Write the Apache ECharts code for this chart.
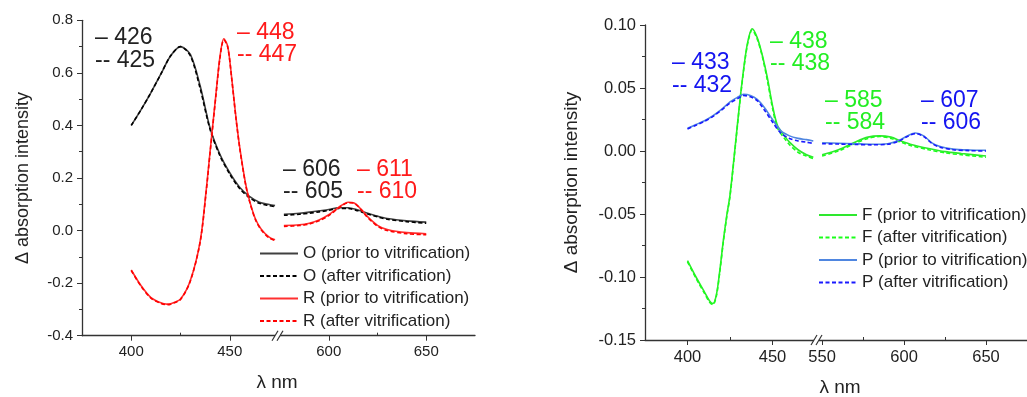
<!DOCTYPE html>
<html>
<head>
<meta charset="utf-8">
<script src="https://cdn.jsdelivr.net/npm/echarts@6/dist/echarts.min.js"></script>
<style>
  html, body { margin: 0; padding: 0; background: #fff; }
  #chart { width: 1027px; height: 397px; }
</style>
</head>
<body>
<div id="chart"></div>
<script>
/* ---- data ---- */
// left panel, O and R, 400-475 nm segment
const oNmA = [400, 405, 410, 415, 420, 425, 430, 435, 440, 445, 450, 455, 460, 465, 470, 473]
const oPriorA = [0.40, 0.46, 0.525, 0.595, 0.665, 0.70, 0.67, 0.55, 0.39, 0.29, 0.22, 0.165, 0.13, 0.108, 0.099, 0.095]
const oAfterA = [0.40, 0.46, 0.525, 0.595, 0.665, 0.70, 0.665, 0.54, 0.385, 0.285, 0.215, 0.16, 0.125, 0.104, 0.095, 0.091]
const rNmA = [400, 405, 410, 415, 418, 420, 425, 430, 435, 438, 440, 443, 445, 447, 449, 451, 453, 455, 458, 460, 463, 466, 470, 473]
const rPriorA = [-0.15, -0.21, -0.255, -0.275, -0.28, -0.278, -0.26, -0.19, -0.04, 0.15, 0.30, 0.52, 0.66, 0.73, 0.70, 0.58, 0.44, 0.32, 0.18, 0.115, 0.045, 0.005, -0.025, -0.035]
const rAfterA = [-0.152, -0.212, -0.257, -0.277, -0.282, -0.28, -0.262, -0.192, -0.043, 0.145, 0.295, 0.515, 0.655, 0.726, 0.697, 0.577, 0.437, 0.317, 0.177, 0.112, 0.042, 0.002, -0.028, -0.038]
// left panel, 575-675 nm segment
const oNmB = [577, 585, 590, 595, 600, 605, 610, 615, 620, 625, 630, 640, 650]
const oPriorB = [0.062, 0.066, 0.070, 0.075, 0.080, 0.087, 0.087, 0.078, 0.066, 0.055, 0.046, 0.037, 0.032]
const oAfterB = [0.058, 0.062, 0.066, 0.071, 0.077, 0.084, 0.084, 0.075, 0.063, 0.052, 0.043, 0.034, 0.028]
const rNmB = [577, 585, 590, 595, 600, 605, 610, 613, 617, 620, 625, 630, 640, 650]
const rPriorB = [0.019, 0.022, 0.028, 0.040, 0.060, 0.088, 0.108, 0.105, 0.078, 0.052, 0.020, 0.004, -0.008, -0.012]
const rAfterB = [0.016, 0.019, 0.025, 0.037, 0.057, 0.085, 0.106, 0.104, 0.076, 0.049, 0.017, 0.000, -0.012, -0.016]

// right panel, F and P, 400-475 nm segment
const fNmA = [400, 405, 410, 413, 415, 417, 419, 421, 423, 425, 428, 431, 434, 436, 438, 441, 444, 447, 450, 453, 457, 460, 465, 470, 474]
const fPriorA = [-0.087, -0.100, -0.112, -0.119, -0.121, -0.114, -0.095, -0.072, -0.052, -0.035, 0.003, 0.042, 0.075, 0.090, 0.097, 0.090, 0.076, 0.058, 0.036, 0.020, 0.012, 0.007, 0.001, -0.003, -0.005]
const fAfterA = [-0.088, -0.101, -0.113, -0.120, -0.122, -0.115, -0.096, -0.073, -0.053, -0.036, 0.002, 0.041, 0.074, 0.089, 0.096, 0.089, 0.075, 0.056, 0.034, 0.018, 0.010, 0.005, -0.001, -0.004, -0.006]
const pNmA = [400, 405, 410, 415, 420, 425, 430, 433, 437, 441, 445, 450, 455, 460, 465, 470, 474]
const pPriorA = [0.018, 0.021, 0.024, 0.028, 0.033, 0.039, 0.043, 0.045, 0.044, 0.041, 0.035, 0.025, 0.016, 0.012, 0.010, 0.009, 0.008]
const pAfterA = [0.0175, 0.0205, 0.0235, 0.0275, 0.0325, 0.038, 0.042, 0.044, 0.043, 0.040, 0.033, 0.023, 0.014, 0.010, 0.008, 0.007, 0.006]
// right panel, 550-675 nm segment
const fNmB = [550, 560, 570, 578, 585, 592, 598, 605, 615, 625, 635, 650]
const fPriorB = [-0.003, 0.001, 0.007, 0.011, 0.012, 0.011, 0.008, 0.005, 0.002, -0.0005, -0.002, -0.004]
const fAfterB = [-0.004, 0.000, 0.006, 0.010, 0.0115, 0.010, 0.007, 0.004, 0.001, -0.0015, -0.003, -0.005]
const pNmB = [550, 560, 570, 580, 590, 597, 602, 607, 612, 617, 622, 630, 640, 650]
const pPriorB = [0.0066, 0.0062, 0.0058, 0.0054, 0.0058, 0.0085, 0.0120, 0.0143, 0.0120, 0.0065, 0.0035, 0.0015, 0.0008, 0.0006]
const pAfterB = [0.0058, 0.0055, 0.0052, 0.0049, 0.0053, 0.0080, 0.0115, 0.0138, 0.0115, 0.0060, 0.0030, 0.0010, 0.0003, 0.0000]

// peak annotations
const peakLabels = [
  { text: '\u2013 426', x: 95, y: 38, color: '#222' },
  { text: '-- 425', x: 95, y: 61, color: '#222' },
  { text: '\u2013 448', x: 237, y: 33, color: '#ff1a1a' },
  { text: '-- 447', x: 237, y: 55, color: '#ff1a1a' },
  { text: '\u2013 606', x: 283, y: 170, color: '#222' },
  { text: '-- 605', x: 283, y: 192, color: '#222' },
  { text: '\u2013 611', x: 357, y: 170, color: '#ff1a1a' },
  { text: '-- 610', x: 357, y: 192, color: '#ff1a1a' },
  { text: '\u2013 433', x: 672, y: 63, color: '#1414f0' },
  { text: '-- 432', x: 672, y: 86, color: '#1414f0' },
  { text: '\u2013 438', x: 770, y: 42, color: '#22ee22' },
  { text: '-- 438', x: 770, y: 64, color: '#22ee22' },
  { text: '\u2013 585', x: 825, y: 101, color: '#22ee22' },
  { text: '-- 584', x: 825, y: 123, color: '#22ee22' },
  { text: '\u2013 607', x: 921, y: 101, color: '#1414f0' },
  { text: '-- 606', x: 921, y: 123, color: '#1414f0' }
]

const FONT = '"Liberation Sans", Arial, sans-serif'
const DASH = [4, 2.5]

function pairs (xs, ys) {
  return xs.map((x, i) => [x, ys[i]])
}

function line (name, axis, xs, ys, color, dashed) {
  return {
    name: name,
    type: 'line',
    xAxisIndex: axis,
    yAxisIndex: axis,
    data: pairs(xs, ys),
    symbol: 'none',
    smooth: 0.3,
    lineStyle: { color: color, width: 1.6, type: dashed ? DASH : 'solid' },
    itemStyle: { color: color }
  }
}

// grids: 0,1 left panel (broken axis), 2,3 right panel
const grids = [
  { left: 82, width: 197, top: 20.3, height: 315.4 },
  { left: 280, width: 195, top: 20.3, height: 315.4 },
  { left: 645, width: 170, top: 25, height: 315 },
  { left: 818, width: 217, top: 25, height: 315 }
]

function mainX (grid, min, max, ticks, fontSize) {
  return {
    type: 'value',
    gridIndex: grid,
    min: min,
    max: max,
    position: 'bottom',
    axisLine: { show: true, onZero: false, lineStyle: { color: '#333', width: 1.3 } },
    axisTick: { show: true, customValues: ticks, length: 5, lineStyle: { color: '#333' } },
    axisLabel: { show: true, customValues: ticks, fontSize: fontSize, color: '#222', fontFamily: FONT, margin: 9 },
    splitLine: { show: false }
  }
}

function minorX (grid, min, max, ticks) {
  return {
    type: 'value',
    gridIndex: grid,
    min: min,
    max: max,
    position: 'bottom',
    axisLine: { show: false, onZero: false },
    axisTick: { show: true, inside: true, customValues: ticks, length: 3, lineStyle: { color: '#333' } },
    axisLabel: { show: false },
    splitLine: { show: false }
  }
}

function yAx (grid, min, max, step, digits, show, fontSize, nameGap, nameSize) {
  return {
    type: 'value',
    gridIndex: grid,
    min: min,
    max: max,
    interval: step,
    show: show,
    name: show ? '\u0394 absorption intensity' : '',
    nameLocation: 'middle',
    nameRotate: 90,
    nameGap: nameGap,
    nameTextStyle: { fontSize: nameSize, color: '#222', fontFamily: FONT },
    axisLine: { show: true, onZero: false, lineStyle: { color: '#333', width: 1.3 } },
    axisTick: { show: true, length: 5, lineStyle: { color: '#333' } },
    minorTick: { show: true, splitNumber: 2, length: 3, lineStyle: { color: '#333' } },
    axisLabel: {
      fontSize: fontSize,
      color: '#222',
      fontFamily: FONT,
      margin: 9,
      formatter: v => v.toFixed(digits)
    },
    splitLine: { show: false }
  }
}

function breakMark (x, y) {
  return [
    { type: 'rect', shape: { x: x - 2, y: y - 3, width: 5, height: 6 }, style: { fill: '#fff' }, z: 100 },
    { type: 'line', shape: { x1: x - 5, y1: y + 5, x2: x + 1, y2: y - 5 }, style: { stroke: '#333', lineWidth: 1.2 }, z: 101 },
    { type: 'line', shape: { x1: x, y1: y + 5, x2: x + 6, y2: y - 5 }, style: { stroke: '#333', lineWidth: 1.2 }, z: 101 }
  ]
}

const graphics = peakLabels.map(p => ({
  type: 'text',
  x: p.x,
  y: p.y,
  z: 50,
  style: { text: p.text, fill: p.color, font: '23px ' + FONT, verticalAlign: 'middle', align: 'left' }
}))
  .concat([
    { type: 'text', x: 277, y: 383, style: { text: '\u03bb nm', fill: '#222', font: '19px ' + FONT, align: 'center', verticalAlign: 'middle' } },
    { type: 'text', x: 840, y: 388, style: { text: '\u03bb nm', fill: '#222', font: '19px ' + FONT, align: 'center', verticalAlign: 'middle' } }
  ])
  .concat(breakMark(277, 335.7))
  .concat(breakMark(816, 340))

const legendBase = {
  orient: 'vertical',
  itemWidth: 38,
  itemHeight: 14,
  itemGap: 5.5,
  itemStyle: { opacity: 0 },
  textStyle: { fontSize: 17, color: '#222', fontFamily: FONT },
  selectedMode: false
}

const chart = echarts.init(document.getElementById('chart'))
chart.setOption({
  animation: false,
  backgroundColor: '#fff',
  grid: grids,
  xAxis: [
    mainX(0, 375, 475, [400, 450], 15),
    mainX(1, 575, 675, [600, 650], 15),
    mainX(2, 375, 475, [400, 450], 16.5),
    mainX(3, 547.5, 675, [550, 600, 650], 16.5),
    minorX(0, 375, 475, [425]),
    minorX(1, 575, 675, [625]),
    minorX(2, 375, 475, [425]),
    minorX(3, 547.5, 675, [575, 625])
  ],
  yAxis: [
    yAx(0, -0.4, 0.8, 0.2, 1, true, 15, 50, 18),
    yAx(1, -0.4, 0.8, 0.2, 1, false, 15, 50, 18),
    yAx(2, -0.15, 0.10, 0.05, 2, true, 16.5, 64, 19),
    yAx(3, -0.15, 0.10, 0.05, 2, false, 16.5, 64, 19)
  ],
  legend: [
    Object.assign({
      left: 254,
      top: 240,
      data: ['O (prior to vitrification)', 'O (after vitrification)', 'R (prior to vitrification)', 'R (after vitrification)']
    }, legendBase),
    Object.assign({
      left: 813,
      top: 201.6,
      data: ['F (prior to vitrification)', 'F (after vitrification)', 'P (prior to vitrification)', 'P (after vitrification)']
    }, legendBase)
  ],
  graphic: graphics,
  series: [
    line('O (prior to vitrification)', 0, oNmA, oPriorA, '#404040', false),
    line('O (prior to vitrification)', 1, oNmB, oPriorB, '#404040', false),
    line('O (after vitrification)', 0, oNmA, oAfterA, '#000000', true),
    line('O (after vitrification)', 1, oNmB, oAfterB, '#000000', true),
    line('R (prior to vitrification)', 0, rNmA, rPriorA, '#ff3030', false),
    line('R (prior to vitrification)', 1, rNmB, rPriorB, '#ff3030', false),
    line('R (after vitrification)', 0, rNmA, rAfterA, '#ff0000', true),
    line('R (after vitrification)', 1, rNmB, rAfterB, '#ff0000', true),
    line('F (prior to vitrification)', 2, fNmA, fPriorA, '#2ee82e', false),
    line('F (prior to vitrification)', 3, fNmB, fPriorB, '#2ee82e', false),
    line('F (after vitrification)', 2, fNmA, fAfterA, '#1aff1a', true),
    line('F (after vitrification)', 3, fNmB, fAfterB, '#1aff1a', true),
    line('P (prior to vitrification)', 2, pNmA, pPriorA, '#4f86e0', false),
    line('P (prior to vitrification)', 3, pNmB, pPriorB, '#4f86e0', false),
    line('P (after vitrification)', 2, pNmA, pAfterA, '#1a1aff', true),
    line('P (after vitrification)', 3, pNmB, pAfterB, '#1a1aff', true)
  ]
})
</script>
</body>
</html>
